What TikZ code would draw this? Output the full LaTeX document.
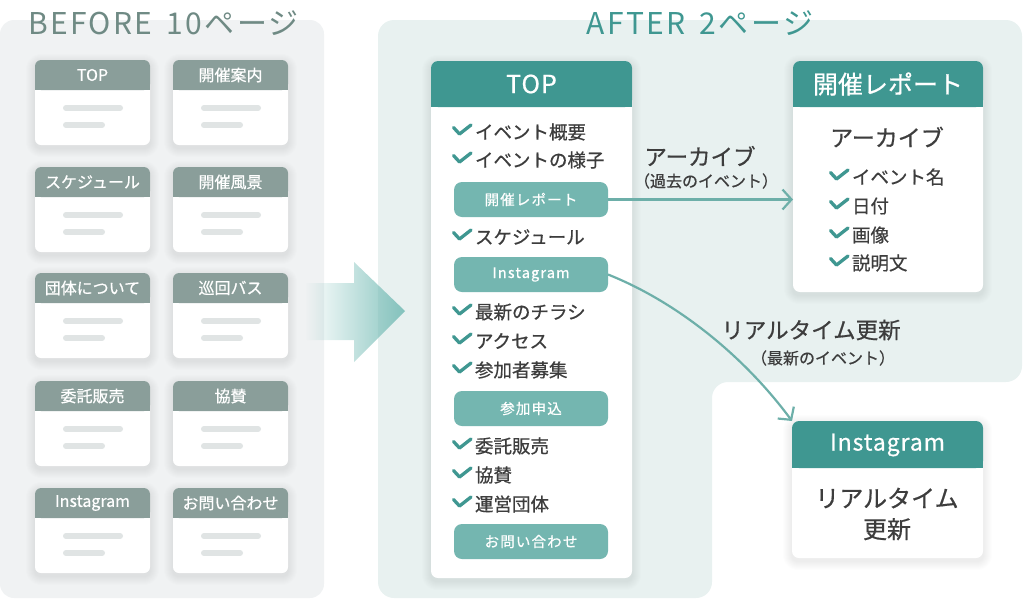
\documentclass[tikz,border=0pt]{standalone}
\usepackage{fontspec}
\setmainfont{Noto Sans CJK JP}
\newfontfamily\medfont{Noto Sans CJK JP}[FakeBold=0.6]
\usetikzlibrary{calc,arrows.meta,fadings}
\pgfdeclarelayer{bg}
\pgfdeclarelayer{shadow}
\pgfsetlayers{bg,shadow,main}
\definecolor{beforebg}{HTML}{F0F2F3}
\definecolor{afterbg}{HTML}{E8F1F0}
\definecolor{oldhdr}{HTML}{8A9E9A}
\definecolor{ghostc}{HTML}{E0E4E4}
\definecolor{tealhdr}{HTML}{3F9791}
\definecolor{btn}{HTML}{74B6B0}
\definecolor{linkc}{HTML}{6DAFA9}
\definecolor{beforet}{HTML}{6F8A84}
\definecolor{aftert}{HTML}{3F9791}
\definecolor{txt}{HTML}{3D3D3D}
\definecolor{arrowc}{HTML}{78BDB7}
\tikzfading[name=fadeR, left color=transparent!100, right color=transparent!10]
\newcommand\softsh[1]{%
  \begin{pgfonlayer}{shadow}
  \foreach \i [evaluate=\i as \r using 6+\i] in {1,...,9}{%
    \fill[black, opacity=0.009, rounded corners=\r pt] ($(#1.north west)+(-\i,-\i+3)$) rectangle ($(#1.south east)+(\i,\i+3)$);
  }
  \end{pgfonlayer}
}
\newcommand\oldcard[4]{%
  \node[oldbody] (#1) at (#2,#3) {};
  \softsh{#1}
  \fill[oldhdr, rounded corners=6pt] (#1.north west) rectangle ($(#1.north east)+(0,30)$);
  \fill[oldhdr] ($(#1.north west)+(0,22)$) rectangle ($(#1.north east)+(0,30)$);
  \node[oldtitle] (#1-t) at ($(#1.north)+(0,15)$) {#4};
  \draw[ghost] ($(#1.north west)+(31,48)$) -- +(54,0);
  \draw[ghost] ($(#1.north west)+(31,65)$) -- +(36,0);
}
\newcommand\newhdr[3]{%
  \softsh{#1}
  \fill[tealhdr, rounded corners=7pt] (#1.north west) rectangle ($(#1.north east)+(0,#2)$);
  \fill[tealhdr] ($(#1.north west)+(0,#2-8)$) rectangle ($(#1.north east)+(0,#2)$);
}
\newcommand\chkitem[4]{%
  \node[item] (#1) at (#2,#3) {#4};
  \pic at ($(#1.west)+(-13,-2)$) {chk};
}
\begin{document}
\begin{tikzpicture}[x=1pt,y=-1pt,
  every node/.style={inner sep=0pt,outer sep=0pt},
  oldbody/.style={fill=white, rounded corners=6pt, minimum width=115pt, minimum height=85pt, anchor=north west},
  oldtitle/.style={text=white, font=\medfont\fontsize{16}{18}\selectfont},
  ghost/.style={draw=ghostc, line width=6pt, line cap=round},
  newbody/.style={fill=white, rounded corners=7pt, anchor=north west},
  hdrtitle/.style={text=white},
  item/.style={anchor=west, text=txt, font=\medfont\fontsize{18.5}{20}\selectfont},
  btnbox/.style={fill=btn, rounded corners=8pt, minimum width=154pt, minimum height=35pt, text=white, font=\medfont\fontsize{14.5}{16}\selectfont\addfontfeatures{LetterSpace=8}},
  link/.style={draw=linkc, line width=2.2pt, -{Straight Barb[length=9pt,width=20pt,line width=2.2pt]}},
  lbl/.style={text=txt},
  chk/.pic={\draw[tealhdr, line width=3.3pt, line cap=round, line join=round] (-8.5,-2.5) -- (-2.5,4) -- (9,-5);}
]
\useasboundingbox (0,0) rectangle (1024,600);
% panels
\begin{pgfonlayer}{bg}
\fill[beforebg, rounded corners=14pt] (0,20) rectangle (324,598);
\fill[afterbg, rounded corners=16pt] (378,20) -- (1022,20) -- (1022,382) -- (712,382) -- (712,598) -- (378,598) -- cycle;
\end{pgfonlayer}
% titles
\node[anchor=base west, text=beforet, font=\fontsize{30}{32}\selectfont\addfontfeatures{LetterSpace=8}] (beforetitle) at (28,34) {BEFORE\hspace{14pt}10ページ};
\node[anchor=base, text=aftert, font=\fontsize{30}{32}\selectfont\addfontfeatures{LetterSpace=8}] (aftertitle) at (700,34) {AFTER\hspace{14pt}2ページ};
% old cards
\oldcard{o1}{35}{60}{TOP}
\oldcard{o2}{173}{60}{開催案内}
\oldcard{o3}{35}{167}{スケジュール}
\oldcard{o4}{173}{167}{開催風景}
\oldcard{o5}{35}{273}{団体について}
\oldcard{o6}{173}{273}{巡回バス}
\oldcard{o7}{35}{381}{委託販売}
\oldcard{o8}{173}{381}{協賛}
\oldcard{o9}{35}{488}{Instagram}
\oldcard{o10}{173}{488}{お問い合わせ}
% big arrow
\fill[arrowc, path fading=fadeR] (305,283) -- (354,283) -- (354,262) -- (405,311) -- (354,362) -- (354,340) -- (305,340) -- cycle;
% TOP card
\node[newbody, minimum width=201pt, minimum height=517pt] (top) at (431,61) {};
\newhdr{top}{46}{}
\node[hdrtitle, font=\medfont\fontsize{25}{27}\selectfont\addfontfeatures{LetterSpace=4}] (top-t) at ($(top.north)+(0,23)$) {TOP};
\chkitem{i1}{475}{132}{イベント概要}
\chkitem{i2}{475}{160}{イベントの様子}
\node[btnbox] (btnreport) at (531,199.5) {開催レポート};
\chkitem{i3}{475}{237}{スケジュール}
\node[btnbox] (btninsta) at (531,274.5) {Instagram};
\chkitem{i4}{475}{312}{最新のチラシ}
\chkitem{i5}{475}{341}{アクセス}
\chkitem{i6}{475}{370}{参加者募集}
\node[btnbox] (btnjoin) at (531,408.5) {参加申込};
\chkitem{i7}{475}{446}{委託販売}
\chkitem{i8}{475}{475}{協賛}
\chkitem{i9}{475}{504}{運営団体}
\node[btnbox] (btncontact) at (531,541.5) {お問い合わせ};
% report card
\node[newbody, minimum width=190pt, minimum height=231pt] (report) at (793,61) {};
\newhdr{report}{46}{}
\node[hdrtitle, font=\medfont\fontsize{25}{27}\selectfont] (report-t) at ($(report.north)+(0,23)$) {開催レポート};
\node[lbl, font=\medfont\fontsize{23}{25}\selectfont] (archive) at (887,137) {アーカイブ};
\chkitem{r1}{852}{177}{イベント名}
\chkitem{r2}{852}{206}{日付}
\chkitem{r3}{852}{235}{画像}
\chkitem{r4}{852}{263}{説明文}
% instagram card
\node[newbody, minimum width=191pt, minimum height=137pt] (insta) at (792,421) {};
\newhdr{insta}{47}{}
\node[hdrtitle, font=\medfont\fontsize{23}{25}\selectfont\addfontfeatures{LetterSpace=4}] (insta-t) at ($(insta.north)+(0,24)$) {Instagram};
\node[lbl, align=center, font=\medfont\fontsize{24}{31}\selectfont] (instabody) at (887,514) {リアルタイム\\更新};
% connectors
\draw[link] (btnreport.east) -- (report.west |- btnreport.east);
\draw[link] (btninsta.east) .. controls (677,302) and (744,356) .. (insta.north west);
% labels
\node[lbl, font=\medfont\fontsize{22.5}{24}\selectfont] (lblarch) at (700,156) {アーカイブ};
\node[lbl, font=\medfont\fontsize{16}{18}\selectfont] (lblpast) at (706,181) {（過去のイベント）};
\node[lbl, font=\medfont\fontsize{22.5}{24}\selectfont] (lblrt) at (811,330) {リアルタイム更新};
\node[lbl, font=\medfont\fontsize{16}{18}\selectfont] (lblnew) at (823,358) {（最新のイベント）};
\end{tikzpicture}
\end{document}
